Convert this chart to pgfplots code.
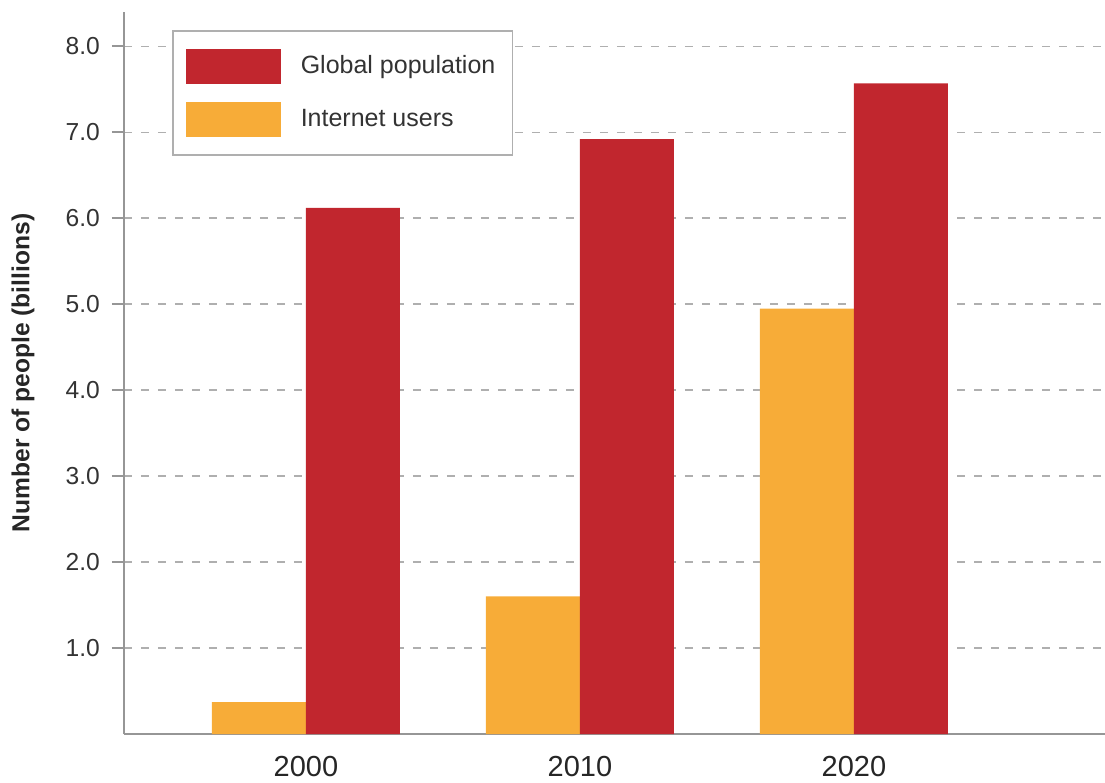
\documentclass[border=0pt]{standalone}
\usepackage{fontspec}
\setmainfont{Liberation Sans}
\usepackage{pgfplots}
\pgfplotsset{compat=1.18}
\definecolor{popred}{RGB}{193,38,46}
\definecolor{netorange}{RGB}{247,172,56}
\definecolor{axgray}{RGB}{150,150,150}
\definecolor{gridgray}{RGB}{175,175,175}
\begin{document}
\begin{tikzpicture}
\begin{axis}[
  scale only axis, width=490.5pt, height=361pt,
  xmin=-0.664, xmax=2.916, ymin=0, ymax=8.4,
  ybar=0pt, bar width=47pt,
  axis x line*=bottom, axis y line*=left,
  axis line style={axgray, line width=1.3pt},
  xtick={0,1,2}, xticklabels={2000,2010,2020},
  x tick style={draw=none},
  ytick={1,2,3,4,5,6,7,8},
  y tick style={axgray, line width=0.9pt},
  tick align=outside, major tick length=6pt,
  ymajorgrids, grid style={gridgray, line width=0.8pt, dash pattern=on 4pt off 4.5pt},
  yticklabel style={font=\fontsize{12.3}{14}\selectfont, text=black!80, xshift=-2.5pt},
  xticklabel style={font=\fontsize{14.5}{16}\selectfont, text=black!85, inner sep=0pt, yshift=-5pt},
  /pgf/number format/.cd, fixed, fixed zerofill, precision=1, assume math mode=true, /pgfplots/.cd,
  ylabel={Number of people (billions)},
  ylabel style={at={(axis description cs:-0.103,0.5)}, anchor=center,
    font=\bfseries\fontsize{12.3}{14}\selectfont, text=black!85},
  legend style={at={(axis description cs:0,1)}, anchor=north west, xshift=24pt, yshift=-9pt,
    draw=gridgray, line width=0.8pt, fill=white, font=\fontsize{12.5}{15}\selectfont,
    text=black!80, inner xsep=6.5pt, inner ysep=9pt, row sep=9pt,
    /tikz/every odd column/.append style={column sep=8pt}},
  legend cell align=left,
  reverse legend,
]
\addplot[fill=netorange, draw=none,
  legend image code/.code={\fill[netorange] (0pt,-8.75pt) rectangle (47.5pt,8.75pt);}]
  coordinates {(0,0.37) (1,1.6) (2,4.95)};
\addlegendentry{Internet users}
\addplot[fill=popred, draw=none,
  legend image code/.code={\fill[popred] (0pt,-8.75pt) rectangle (47.5pt,8.75pt);}]
  coordinates {(0,6.12) (1,6.92) (2,7.57)};
\addlegendentry{Global population}
\coordinate (O) at (rel axis cs:0,0);
\end{axis}
\pgfresetboundingbox
\useasboundingbox (O) ++(-62pt,-24.5pt) rectangle ++(552.5pt,391.5pt);
\end{tikzpicture}
\end{document}
